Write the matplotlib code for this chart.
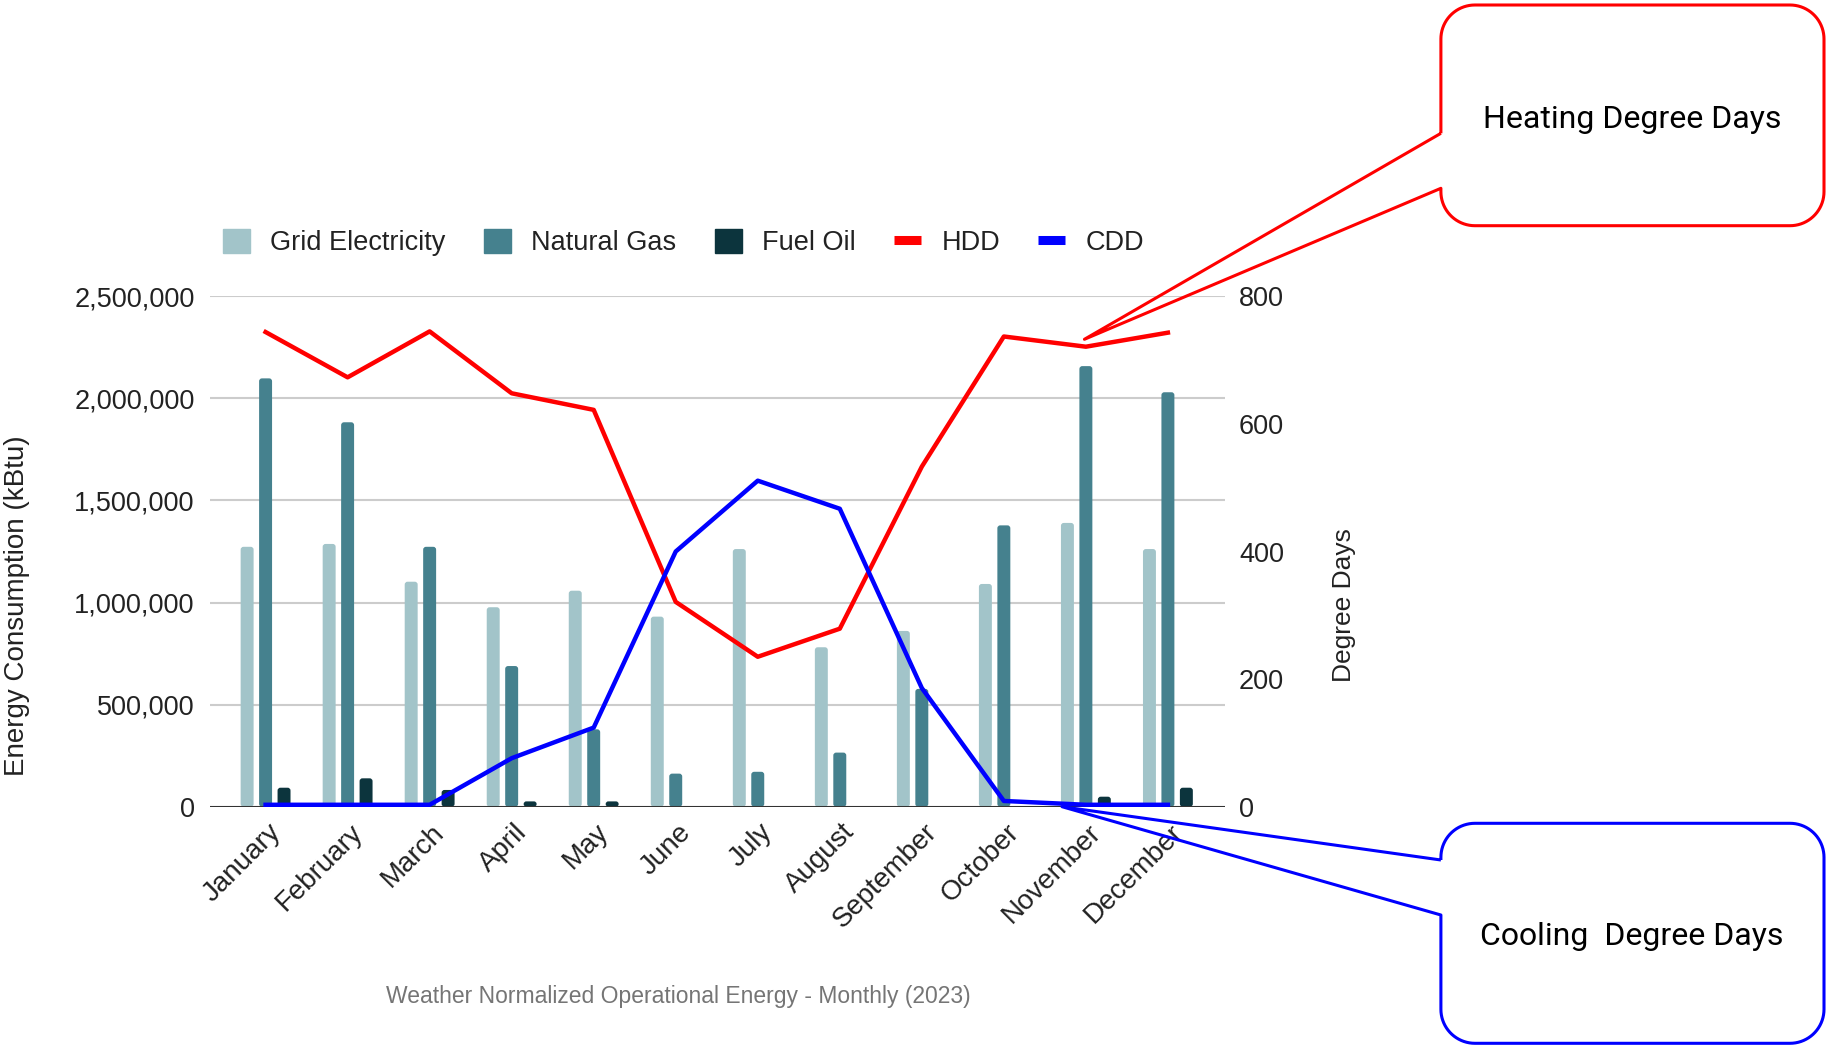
import numpy as np
import matplotlib
matplotlib.use("Agg")
import matplotlib.pyplot as plt
from matplotlib.path import Path
from matplotlib.patches import PathPatch, Patch, FancyBboxPatch, BoxStyle
from matplotlib.lines import Line2D
from matplotlib.ticker import FuncFormatter
import matplotlib.transforms as mtrans

plt.rcParams['font.family'] = ['Liberation Sans', 'DejaVu Sans']

months = ["January", "February", "March", "April", "May", "June", "July",
          "August", "September", "October", "November", "December"]
grid_electricity = [1273000, 1287000, 1102000, 977000, 1058000, 931000,
                    1262000, 781000, 861000, 1091000, 1390000, 1262000]
natural_gas = [2098000, 1883000, 1273000, 689000, 379000, 162000,
               171000, 265000, 577000, 1378000, 2158000, 2030000]
fuel_oil = [93000, 139000, 82000, 26000, 26000, 0, 0, 0, 0, 0, 49000, 93000]
hdd = [744, 673, 745, 648, 622, 321, 235, 279, 533, 737, 721, 743]
cdd = [3, 3, 3, 76, 124, 400, 511, 467, 186, 9, 3, 3]
left_ticks = [0, 500000, 1000000, 1500000, 2000000, 2500000]
right_ticks = [0, 200, 400, 600, 800]

W, H = 1826, 1047
fig = plt.figure(figsize=(W / 100, H / 100), dpi=100)


def fx(px):
    return px / W


def fy(py):
    return 1 - py / H


ax_left, ax_right, ax_top, ax_bot = 209.8, 1225.0, 296.3, 806.7
ax = fig.add_axes([fx(ax_left), fy(ax_bot), (ax_right - ax_left) / W, (ax_bot - ax_top) / H])
x = np.arange(len(months))
off, bw = 0.225, 0.158
c_grid, c_gas, c_oil = '#a2c4c9', '#45818e', '#0c343d'
xlim = (-0.68, 11.696)
ylim = (0, 2500000)
ax.set_xlim(*xlim)
ax.set_ylim(*ylim)

# pixels per data unit, used to make the rounded corners circular
px_x = (ax_right - ax_left) / (xlim[1] - xlim[0])
px_y = (ax_bot - ax_top) / (ylim[1] - ylim[0])

for vals, dx, col in [(grid_electricity, -off, c_grid), (natural_gas, 0, c_gas),
                      (fuel_oil, off, c_oil)]:
    bars = ax.bar(x + dx, vals, width=bw, color=col, zorder=2)
    for b in bars:
        h = b.get_height()
        if h <= 0:
            b.set_visible(False)
            continue
        rs = min(0.035, (h * px_y / px_x) / 2)
        fb = FancyBboxPatch((b.get_x(), b.get_y()), b.get_width(), h,
                            boxstyle=BoxStyle.Round(pad=0, rounding_size=rs),
                            mutation_aspect=px_x / px_y, facecolor=col,
                            edgecolor='none', zorder=2)
        ax.add_patch(fb)
        b.set_visible(False)

ax.set_yticks(left_ticks)
ax.yaxis.set_major_formatter(FuncFormatter(lambda v, p: f"{v:,.0f}"))
ax.grid(axis='y', color='#cccccc', lw=1.5)
ax.set_axisbelow(True)
for s in ax.spines.values():
    s.set_visible(False)
ax.axhline(0, color='#333333', lw=2.2, zorder=3)
ax.tick_params(axis='both', length=0)
ax.tick_params(axis='y', labelsize=19.5, pad=10.8, labelcolor='#222222')
ax.set_xticks(x)
ax.set_xticklabels(months, rotation=45, ha='right', va='center',
                   rotation_mode='anchor', fontsize=20, color='#222222')
ax.tick_params(axis='x', pad=0)
shift = mtrans.ScaledTranslation(11 / 100, -21.6 / 100, fig.dpi_scale_trans)
for lab in ax.get_xticklabels():
    lab.set_transform(lab.get_transform() + shift)

ax2 = ax.twinx()
ax2.plot(x, hdd, color='#ff0000', lw=3.2, solid_joinstyle='round', zorder=4)
ax2.plot(x, cdd, color='#0000ff', lw=3.2, solid_joinstyle='round', zorder=4)
ax2.set_ylim(0, 800)
ax2.set_yticks(right_ticks)
for s in ax2.spines.values():
    s.set_visible(False)
ax2.tick_params(axis='y', length=0, labelsize=19.5, pad=10, labelcolor='#222222')

fig.text(fx(17), fy(606), "Energy Consumption (kBtu)", rotation=90,
         ha='center', va='center', fontsize=20, color='#222222')
fig.text(fx(1344), fy(605), "Degree Days", rotation=90,
         ha='center', va='center', fontsize=19, color='#222222')
fig.text(fx(678), fy(996), "Weather Normalized Operational Energy - Monthly (2023)",
         ha='center', va='center', fontsize=16.5, color='#757575')

handles = [Patch(color=c_grid), Patch(color=c_gas), Patch(color=c_oil),
           Line2D([], [], color='#ff0000', lw=6.5, solid_capstyle='butt'),
           Line2D([], [], color='#0000ff', lw=6.5, solid_capstyle='butt')]
labels = ["Grid Electricity", "Natural Gas", "Fuel Oil", "HDD", "CDD"]
fig.legend(handles, labels, loc='center left', bbox_to_anchor=(fx(223.2), fy(242.7)),
           ncol=5, frameon=False, fontsize=19.5, handlelength=1.0, handleheight=1.0,
           handletextpad=0.74, columnspacing=1.42, borderpad=0, borderaxespad=0,
           labelcolor='#222222')


def callout(x0, y0, x1, y1, r, ya, yb, tip, color):
    pts = [(x0, ya), (x0, y0 + r)]

    def arc(cx, cy, a0, a1):
        t = np.radians(np.linspace(a0, a1, 20))
        return list(zip(cx + r * np.cos(t), cy - r * np.sin(t)))
    pts += arc(x0 + r, y0 + r, 180, 90)
    pts += arc(x1 - r, y0 + r, 90, 0)
    pts += arc(x1 - r, y1 - r, 0, -90)
    pts += arc(x0 + r, y1 - r, -90, -180)
    pts += [(x0, yb), tip, (x0, ya)]
    verts = [(fx(px), fy(py)) for px, py in pts]
    codes = [Path.MOVETO] + [Path.LINETO] * (len(verts) - 1)
    patch = PathPatch(Path(verts, codes), transform=fig.transFigure, fill=False,
                      edgecolor=color, lw=2.2, joinstyle='round', zorder=10)
    fig.add_artist(patch)


callout(1440.9, 5, 1824, 225.7, 34, 133.3, 188.3, (1084.4, 339.3), '#ff0000')
callout(1440.9, 823.3, 1824, 1043.3, 34, 860, 915, (1062, 806.7), '#0000ff')
fig.text(fx(1632), fy(119), "Heating Degree Days", family=['Roboto', 'DejaVu Sans'],
         fontsize=23, ha='center', va='center', color='black')
fig.text(fx(1632), fy(936.5), "Cooling  Degree Days", family=['Roboto', 'DejaVu Sans'],
         fontsize=23, ha='center', va='center', color='black')

fig.savefig("out.png", dpi=100, facecolor='white')
